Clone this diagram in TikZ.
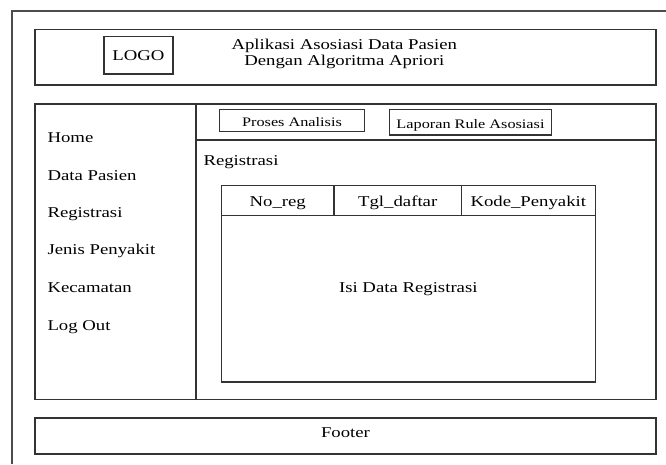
\documentclass[tikz,border=0pt]{standalone}
\usepackage{fontspec}
\setmainfont{Liberation Serif}[FakeStretch=1.25]
\begin{document}
\begin{tikzpicture}[x=1pt,y=-1pt,
  frame/.style={draw=black!80, line width=1.1pt},
  box/.style={frame, inner sep=0pt, outer sep=0pt, anchor=north west},
  txt/.style={font=\fontsize{15}{18}\selectfont, inner sep=0pt},
  tabtxt/.style={font=\fontsize{13}{15}\selectfont, inner sep=0pt}]
\useasboundingbox (0,0) rectangle (666,464);
\fill[white] (0,0) rectangle (666,464);

% page frame (open to the right and bottom)
\draw[gray!60!black, line width=1.6pt] (12,464) -- (12,11) -- (666,11);

% header
\node[box, minimum width=621pt, minimum height=55.5pt] (header) at (35,29.5) {};
\node[box, minimum width=69pt, minimum height=37.5pt] (logo) at (104,36.5) {};
\node[txt] (logotext) at (logo.center) {LOGO};
\node[txt, anchor=base] (title1) at (344.3,49) {Aplikasi Asosiasi Data Pasien};
\node[txt, anchor=base] (title2) at (344.3,65.7) {Dengan Algoritma Apriori};

% main area
\node[box, minimum width=621pt, minimum height=295.3pt] (main) at (35,104) {};
\draw[frame] (196,104) -- (196,399.3);
\draw[frame] (196,140) -- (656,140);

% side menu
\node[txt, anchor=base west] (m1) at (47.3,142.3) {Home};
\node[txt, anchor=base west] (m2) at (47.3,180) {Data Pasien};
\node[txt, anchor=base west] (m3) at (47.3,217.3) {Registrasi};
\node[txt, anchor=base west] (m4) at (47.3,254.3) {Jenis Penyakit};
\node[txt, anchor=base west] (m5) at (47.3,292.3) {Kecamatan};
\node[txt, anchor=base west] (m6) at (47.3,330) {Log Out};

% tabs
\node[box, minimum width=145.4pt, minimum height=22.2pt] (tab1) at (219.3,109.5) {};
\node[tabtxt, anchor=base] (tab1text) at (292,126) {Proses Analisis};
\node[box, minimum width=161.6pt, minimum height=25.3pt] (tab2) at (389.7,109.7) {};
\node[tabtxt, anchor=base] (tab2text) at (470.5,128.3) {Laporan Rule Asosiasi};

% content
\node[txt, anchor=base west] (pagetitle) at (203.3,165.5) {Registrasi};
\node[box, minimum width=374pt, minimum height=196.5pt] (table) at (221.3,185.5) {};
\draw[frame] (221.3,215.7) -- (595.3,215.7);
\draw[frame] (334,185.5) -- (334,215.7);
\draw[frame] (461.3,185.5) -- (461.3,215.7);
\node[txt, anchor=base] (h1) at (277.7,206.7) {No\_reg};
\node[txt, anchor=base] (h2) at (397.7,206.7) {Tgl\_daftar};
\node[txt, anchor=base] (h3) at (528.3,206.7) {Kode\_Penyakit};
\node[txt, anchor=base] (body) at (408.3,292.7) {Isi Data Registrasi};

% footer
\node[box, minimum width=621pt, minimum height=36pt] (footer) at (35,418) {};
\node[txt, anchor=base] (footertext) at (345.5,437) {Footer};
\end{tikzpicture}
\end{document}
